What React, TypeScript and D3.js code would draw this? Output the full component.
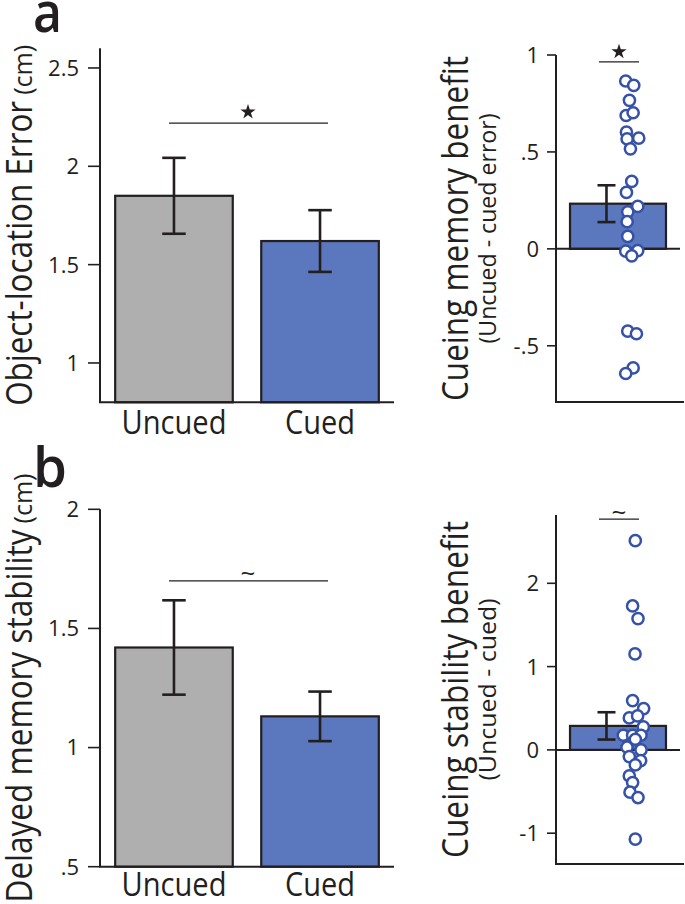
import React from "react";
import * as d3 from "d3";

// ---------- data ----------
const categories = ["Uncued", "Cued"];

const errorMeans = [1.85, 1.62];
const errorSem = [0.193, 0.157];
const errorTicks = [1, 1.5, 2, 2.5];
const errorTickLabels = ["1", "1.5", "2", "2.5"];

const stabilityMeans = [1.42, 1.131];
const stabilitySem = [0.198, 0.104];
const stabilityTicks = [0.5, 1, 1.5, 2];
const stabilityTickLabels = [".5", "1", "1.5", "2"];

const memoryBenefitMean = 0.233;
const memoryBenefitSem = 0.095;
const memoryBenefitPoints = [
  0.866, 0.843, 0.766, 0.688, 0.702, 0.602, 0.567, 0.571, 0.516, 0.348, 0.291,
  0.219, 0.191, 0.14, 0.064, -0.012, -0.009, -0.036, -0.424, -0.438, -0.614, -0.643,
];
// horizontal swarm offsets
const memoryBenefitJitter = [
  -5.7, 2.3, -2, -5.3, 1.7, -5, -4.3, 7.3, -1, 0.3, -5, 6.3, -3.7, -4.3, -3.7, -5.7,
  6.3, 0.3, -3.7, 5, 1.7, -5.7,
];
const memoryTicks = [-0.5, 0, 0.5, 1];
const memoryTickLabels = ["-.5", "0", ".5", "1"];

const stabilityBenefitMean = 0.288;
const stabilityBenefitSem = 0.164;
const stabilityBenefitPoints = [
  2.512, 1.728, 1.576, 1.152, 0.592, 0.496, 0.384, 0.408, 0.276, 0.176, 0.176, 0.176,
  0.128, 0.032, 0.0, -0.08, -0.128, -0.18, -0.312, -0.392, -0.508, -0.572, -1.072,
];
const stabilityBenefitJitter = [
  1, -1.7, 3.7, 0.7, -1.7, 9.3, -5, 3.3, 9, -11, -1.7, 6.7, 1, -7.3, 6.7, -5, 6.3, 1,
  -5, -1.7, -4.3, 3.7, 1,
];
const stabilityBenefitTicks = [-1, 0, 1, 2];
const stabilityBenefitTickLabels = ["-1", "0", "1", "2"];

// ---------- style ----------
const FONT = "'Open Sans', 'Noto Sans', sans-serif";
const INK = "#231f20";
const GRAY = "#afafaf";
const BLUE = "#5b77bd";
const DOT = "#3551a8";

type Title = { main: string; sub: string; mainSize: number; subSize: number; mainLen: number; subLen: number; gap: number; x: number; subX?: number; stacked?: boolean };

function RotTitle({ t, center }: { t: Title; center: number }) {
  if (t.stacked) {
    return (
      <g fill={INK} fontFamily={FONT}>
        <text transform={`translate(${t.x},${center}) rotate(-90)`} textAnchor="middle" fontSize={t.mainSize} textLength={t.mainLen} lengthAdjust="spacingAndGlyphs">{t.main}</text>
        <text transform={`translate(${t.subX},${center}) rotate(-90)`} textAnchor="middle" fontSize={t.subSize} textLength={t.subLen} lengthAdjust="spacingAndGlyphs">{t.sub}</text>
      </g>
    );
  }
  const total = t.mainLen + t.gap + t.subLen;
  const start = center + total / 2;
  return (
    <g fill={INK} fontFamily={FONT}>
      <text transform={`translate(${t.x},${start}) rotate(-90)`} textAnchor="start" fontSize={t.mainSize} textLength={t.mainLen} lengthAdjust="spacingAndGlyphs">{t.main}</text>
      <text transform={`translate(${t.x},${start - t.mainLen - t.gap}) rotate(-90)`} textAnchor="start" fontSize={t.subSize} textLength={t.subLen} lengthAdjust="spacingAndGlyphs">{t.sub}</text>
    </g>
  );
}

function SigMark({ kind, x, y }: { kind: "star" | "tilde"; x: number; y: number }) {
  if (kind === "star") {
    const p = d3.symbol().type(d3.symbolStar).size(72)();
    return <path d={p || ""} transform={`translate(${x},${y})`} fill={INK} />;
  }
  return (
    <text x={x} y={y} textAnchor="middle" dominantBaseline="central" fontFamily={FONT} fontSize={26} fill={INK}>~</text>
  );
}

function BarPanel(props: {
  means: number[]; sems: number[]; ticks: number[]; tickLabels: string[];
  domain: [number, number]; top: number; bottom: number; sigValue: number; sig: "star" | "tilde";
  title: Title; labelY: number;
}) {
  const { means, sems, ticks, tickLabels, domain, top, bottom, sigValue, sig, title, labelY } = props;
  const axisX = 100;
  const y = d3.scaleLinear().domain(domain).range([bottom, top]);
  const x = d3.scaleBand<string>().domain(categories).range([axisX, 394]).paddingInner(0.195).paddingOuter(0.104);
  const bw = x.bandwidth();
  const cap = bw * 0.2;
  const c0 = (x(categories[0]) as number) + bw / 2;
  const c1 = (x(categories[1]) as number) + bw / 2;
  const sy = y(sigValue);
  return (
    <g>
      {categories.map((c, i) => {
        const cx = (x(c) as number) + bw / 2;
        return (
          <g key={c}>
            <rect x={x(c)} y={y(means[i])} width={bw} height={bottom - y(means[i])} fill={i === 0 ? GRAY : BLUE} stroke={INK} strokeWidth={2.2} />
            <g stroke={INK} strokeWidth={2.6}>
              <line x1={cx} x2={cx} y1={y(means[i] + sems[i])} y2={y(means[i] - sems[i])} />
              <line x1={cx - cap / 2} x2={cx + cap / 2} y1={y(means[i] + sems[i])} y2={y(means[i] + sems[i])} />
              <line x1={cx - cap / 2} x2={cx + cap / 2} y1={y(means[i] - sems[i])} y2={y(means[i] - sems[i])} />
            </g>
            <text x={cx} y={labelY} textAnchor="middle" fontFamily={FONT} fontSize={32} fill={INK} textLength={c === "Uncued" ? 105 : 70} lengthAdjust="spacingAndGlyphs">{c}</text>
          </g>
        );
      })}
      <line x1={axisX} x2={axisX} y1={top} y2={bottom} stroke={INK} strokeWidth={2} />
      <line x1={axisX - 1} x2={394} y1={bottom} y2={bottom} stroke={INK} strokeWidth={2} />
      {ticks.map((t, i) => (
        <g key={t}>
          <line x1={axisX - 12} x2={axisX} y1={y(t)} y2={y(t)} stroke={INK} strokeWidth={1.6} />
          <text x={axisX - 21} y={y(t)} dy="0.36em" textAnchor="end" fontFamily={FONT} fontSize={22} fill={INK}>{tickLabels[i]}</text>
        </g>
      ))}
      <line x1={c0 - 5} x2={c1 + 8} y1={sy} y2={sy} stroke={INK} strokeWidth={1.3} />
      <SigMark kind={sig} x={(c0 + c1) / 2 + 1} y={sig === "star" ? sy - 11 : sy - 9} />
      <RotTitle t={title} center={(top + bottom) / 2} />
    </g>
  );
}

function BenefitPanel(props: {
  mean: number; sem: number; points: number[]; jitter: number[]; ticks: number[]; tickLabels: string[];
  domain: [number, number]; top: number; bottom: number; sigValue: number; sig: "star" | "tilde";
  title: Title; pointFrac: number;
}) {
  const { mean, sem, points, jitter, ticks, tickLabels, domain, top, bottom, sigValue, sig, title, pointFrac } = props;
  const axisX = 556;
  const y = d3.scaleLinear().domain(domain).range([bottom, top]);
  const x = d3.scaleBand<string>().domain(["benefit"]).range([axisX, 680]).paddingInner(0).paddingOuter(0.146);
  const bx = x("benefit") as number;
  const bw = x.bandwidth();
  const ex = bx + bw * 0.38;
  const px = bx + bw * pointFrac;
  const cap = 18;
  const sy = y(sigValue);
  const bc = bx + bw / 2;
  return (
    <g>
      <rect x={bx} y={y(mean)} width={bw} height={y(0) - y(mean)} fill={BLUE} stroke={INK} strokeWidth={2.2} />
      <g stroke={INK} strokeWidth={2.6}>
        <line x1={ex} x2={ex} y1={y(mean + sem)} y2={y(mean - sem)} />
        <line x1={ex - cap / 2} x2={ex + cap / 2} y1={y(mean + sem)} y2={y(mean + sem)} />
        <line x1={ex - cap / 2} x2={ex + cap / 2} y1={y(mean - sem)} y2={y(mean - sem)} />
      </g>
      <line x1={axisX} x2={680} y1={y(0)} y2={y(0)} stroke={INK} strokeWidth={2} />
      <line x1={axisX} x2={axisX} y1={top} y2={bottom} stroke={INK} strokeWidth={2} />
      <line x1={axisX - 1} x2={684} y1={bottom} y2={bottom} stroke={INK} strokeWidth={2} />
      {ticks.map((t, i) => (
        <g key={t}>
          <line x1={axisX - 9} x2={axisX} y1={y(t)} y2={y(t)} stroke={INK} strokeWidth={1.6} />
          <text x={axisX - 17} y={y(t)} dy="0.36em" textAnchor="end" fontFamily={FONT} fontSize={22} fill={INK}>{tickLabels[i]}</text>
        </g>
      ))}
      {points.map((v, i) => (
        <circle key={i} cx={px + jitter[i]} cy={y(v)} r={5.6} fill="#fff" stroke={DOT} strokeWidth={2.5} />
      ))}
      <line x1={bc - 19} x2={bc + 21} y1={sy} y2={sy} stroke={INK} strokeWidth={1.3} />
      <SigMark kind={sig} x={bc + 1} y={sig === "star" ? sy - 10 : sy - 8} />
      <RotTitle t={title} center={(top + bottom) / 2} />
    </g>
  );
}

export default function App() {
  return (
    <svg width={685} height={904} style={{ position: "absolute", left: 0, top: 0, background: "#fff" }}>
      <text x={33} y={32} fontFamily={FONT} fontSize={56} fontWeight={600} fill={INK} textLength={29} lengthAdjust="spacingAndGlyphs">a</text>
      <text x={33} y={487} fontFamily={FONT} fontSize={56} fontWeight={600} fill={INK} textLength={34} lengthAdjust="spacingAndGlyphs">b</text>

      <BarPanel
        means={errorMeans} sems={errorSem} ticks={errorTicks} tickLabels={errorTickLabels}
        domain={[0.8, 2.6]} top={48.3} bottom={402.3} sigValue={2.22} sig="star" labelY={434}
        title={{ main: "Object-location Error", sub: "(cm)", mainSize: 37, subSize: 25, mainLen: 305, subLen: 50, gap: 6, x: 32 }}
      />
      <BarPanel
        means={stabilityMeans} sems={stabilitySem} ticks={stabilityTicks} tickLabels={stabilityTickLabels}
        domain={[0.5, 2]} top={509.3} bottom={866.7} sigValue={1.7} sig="tilde" labelY={896}
        title={{ main: "Delayed memory stability", sub: "(cm)", mainSize: 37, subSize: 25, mainLen: 373, subLen: 50, gap: 6, x: 32 }}
      />
      <BenefitPanel
        mean={memoryBenefitMean} sem={memoryBenefitSem} points={memoryBenefitPoints} jitter={memoryBenefitJitter}
        ticks={memoryTicks} tickLabels={memoryTickLabels} domain={[-0.79, 1]} top={55} bottom={402}
        sigValue={0.965} sig="star" pointFrac={0.64}
        title={{ main: "Cueing memory benefit", sub: "(Uncued - cued error)", mainSize: 37, subSize: 23, mainLen: 345, subLen: 230, gap: 0, x: 468, subX: 496, stacked: true }}
      />
      <BenefitPanel
        mean={stabilityBenefitMean} sem={stabilityBenefitSem} points={stabilityBenefitPoints} jitter={stabilityBenefitJitter}
        ticks={stabilityBenefitTicks} tickLabels={stabilityBenefitTickLabels} domain={[-1.37, 2.82]} top={515} bottom={864}
        sigValue={2.77} sig="tilde" pointFrac={0.67}
        title={{ main: "Cueing stability benefit", sub: "(Uncued - cued)", mainSize: 37, subSize: 23, mainLen: 337, subLen: 182, gap: 0, x: 468, subX: 496, stacked: true }}
      />
    </svg>
  );
}
